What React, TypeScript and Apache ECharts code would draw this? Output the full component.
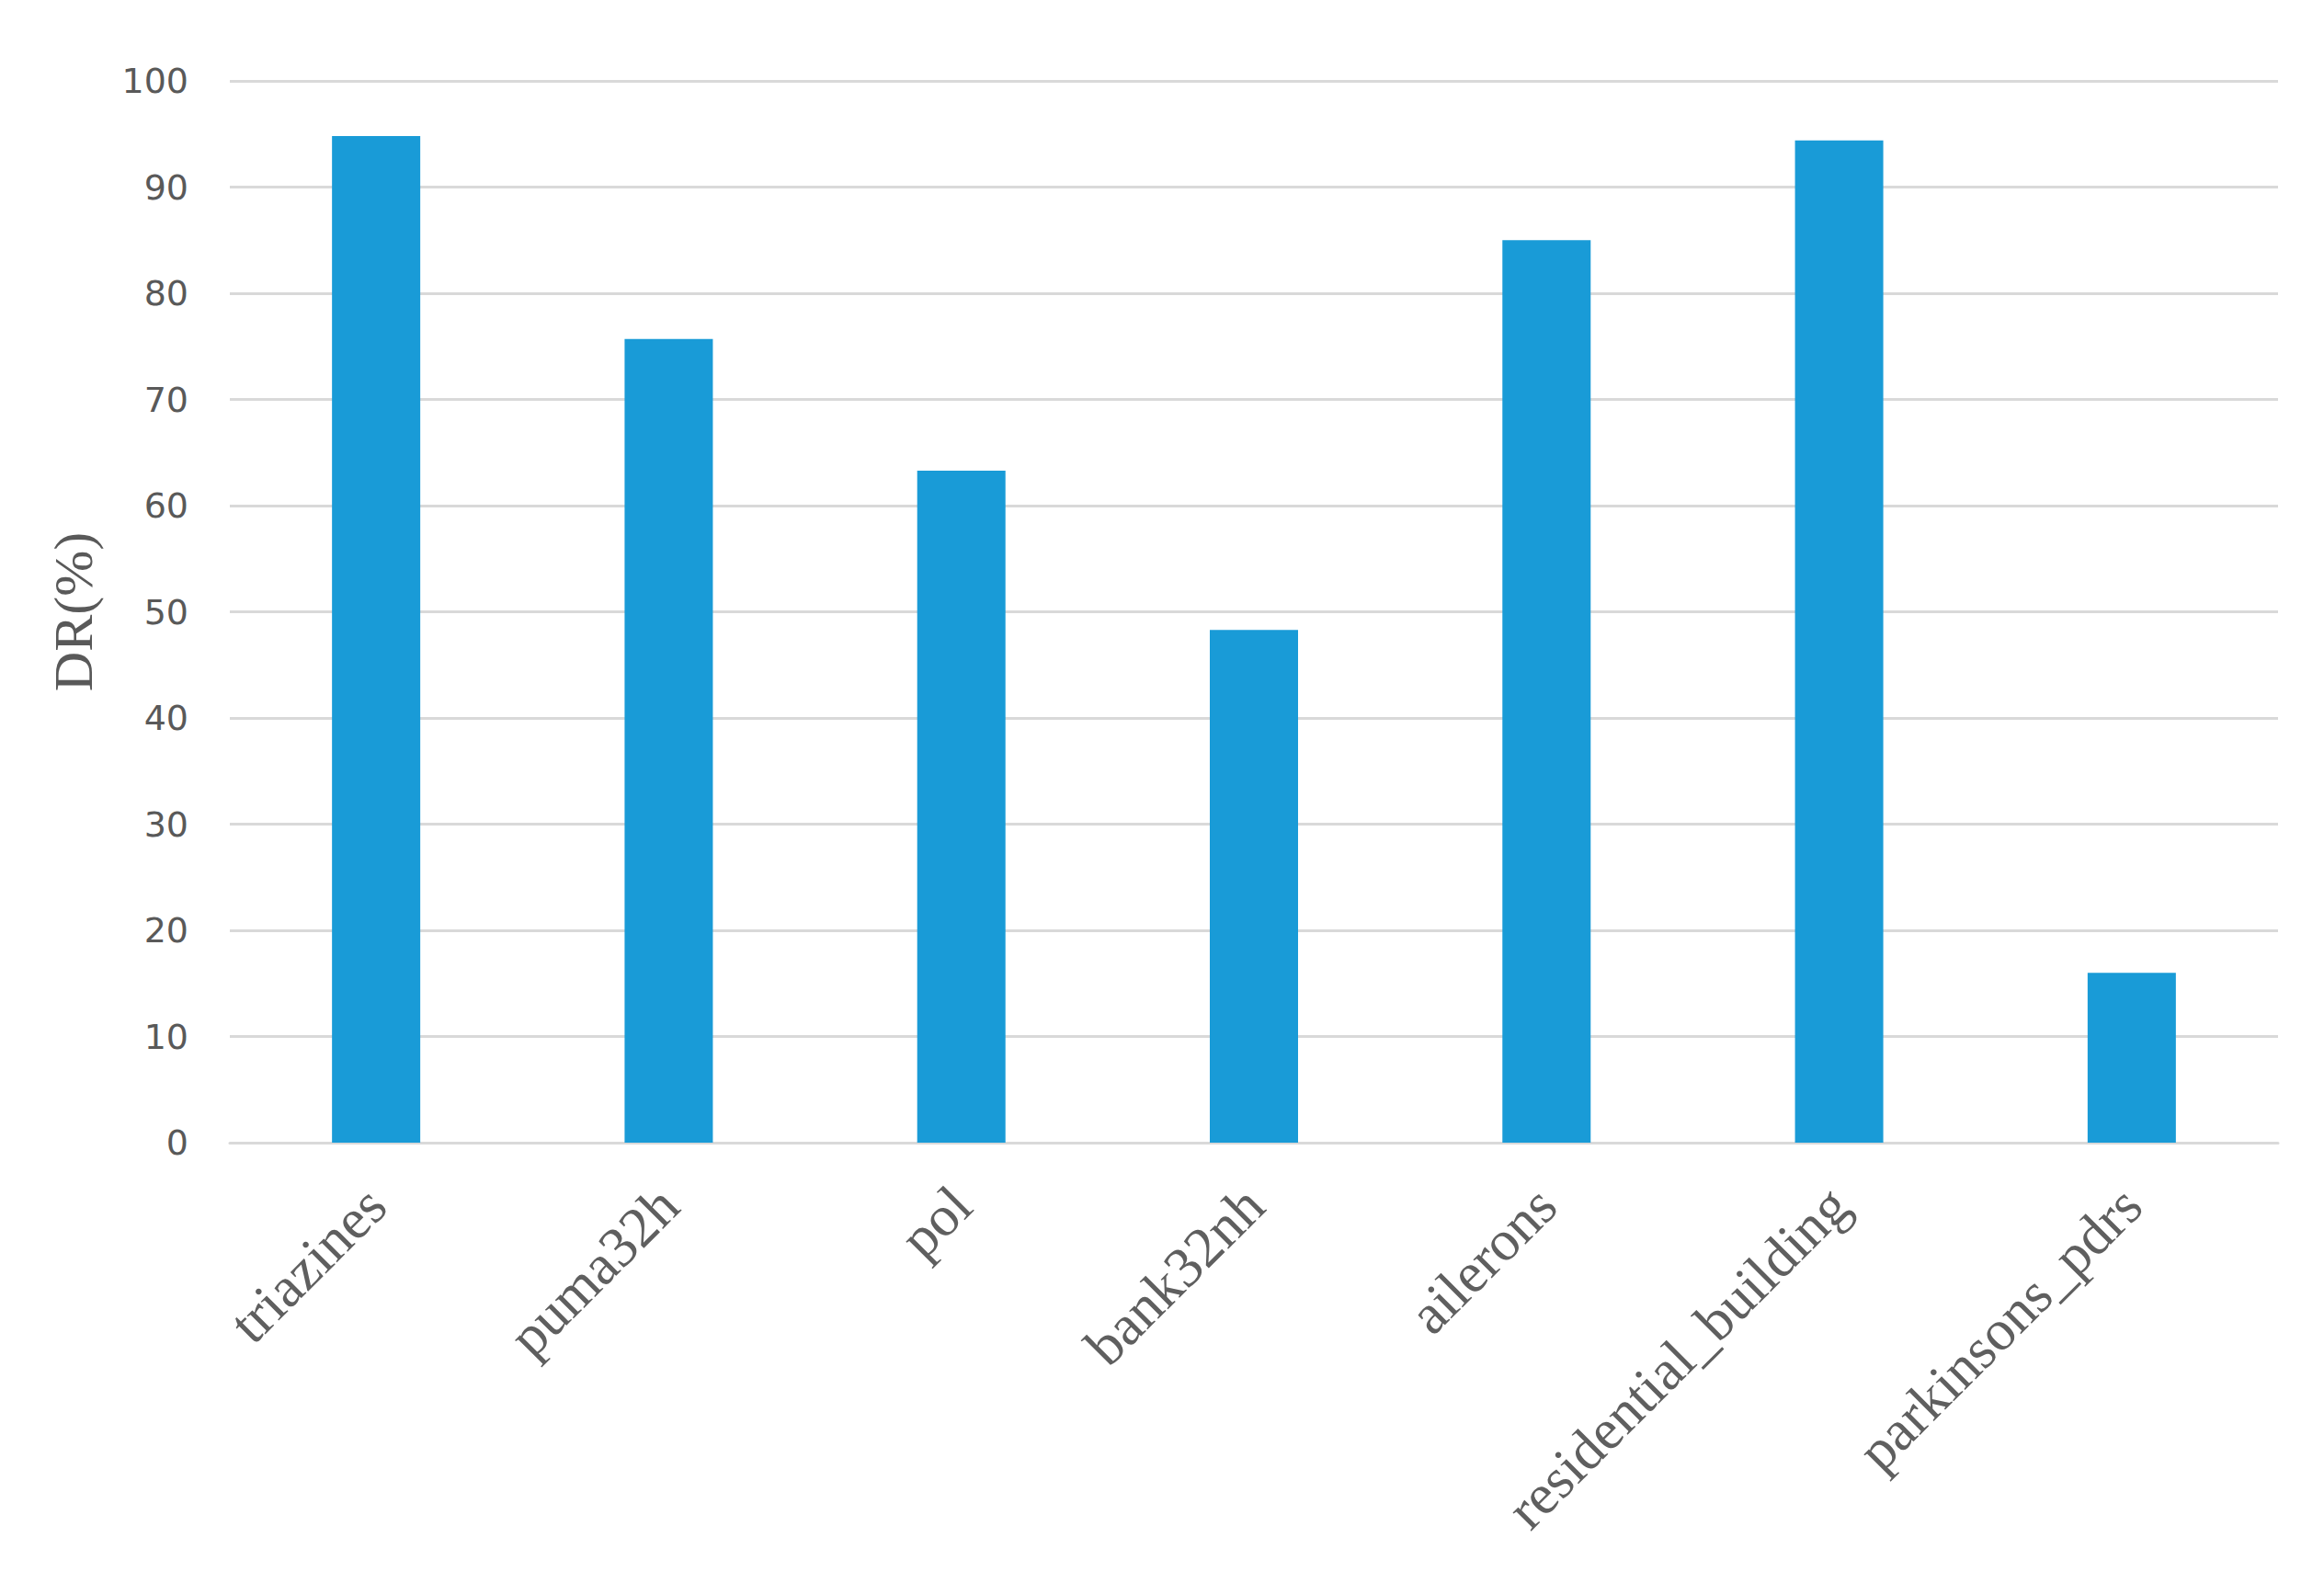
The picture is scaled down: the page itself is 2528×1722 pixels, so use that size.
import React, { useEffect, useRef } from "react";
import * as echarts from "echarts";

const categories = [
  "triazines",
  "puma32h",
  "pol",
  "bank32nh",
  "ailerons",
  "residential_building",
  "parkinsons_pdrs",
];
const drValues = [94.8, 75.7, 63.3, 48.3, 85.0, 94.4, 16.0];
const yTicks = { min: 0, max: 100, interval: 10 };
const yAxisName = "DR(%)";

export default function App() {
  const ref = useRef<HTMLDivElement>(null);
  useEffect(() => {
    if (!ref.current) return;
    const chart = echarts.init(ref.current, undefined, { renderer: "svg" });
    chart.setOption({
      animation: false,
      backgroundColor: "#ffffff",
      grid: { left: 250, right: 50, top: 88, bottom: 479, containLabel: false },
      xAxis: {
        type: "category",
        data: categories,
        axisLine: { show: true, lineStyle: { color: "#d9d9d9", width: 3 } },
        axisTick: { show: false },
        axisLabel: {
          rotate: 45,
          interval: 0,
          margin: 58,
          color: "#5f5f5f",
          fontFamily: "Liberation Serif, Times New Roman, serif",
          fontSize: 62,
        },
      },
      yAxis: {
        type: "value",
        min: yTicks.min,
        max: yTicks.max,
        interval: yTicks.interval,
        name: yAxisName,
        nameLocation: "middle",
        nameRotate: 90,
        nameGap: 140,
        nameTextStyle: {
          color: "#595959",
          fontFamily: "Liberation Serif, Times New Roman, serif",
          fontSize: 60,
        },
        axisLine: { show: false },
        axisTick: { show: false },
        splitLine: { lineStyle: { color: "#d9d9d9", width: 3 } },
        axisLabel: {
          margin: 45,
          color: "#595959",
          fontFamily: "DejaVu Sans, sans-serif",
          fontSize: 38,
        },
      },
      series: [
        {
          type: "bar",
          data: drValues,
          barWidth: 96,
          itemStyle: { color: "#199bd7" },
        },
      ],
    });
    return () => chart.dispose();
  }, []);
  return (
    <div
      ref={ref}
      style={{ position: "absolute", left: 0, top: 0, width: 2528, height: 1722 }}
    />
  );
}
